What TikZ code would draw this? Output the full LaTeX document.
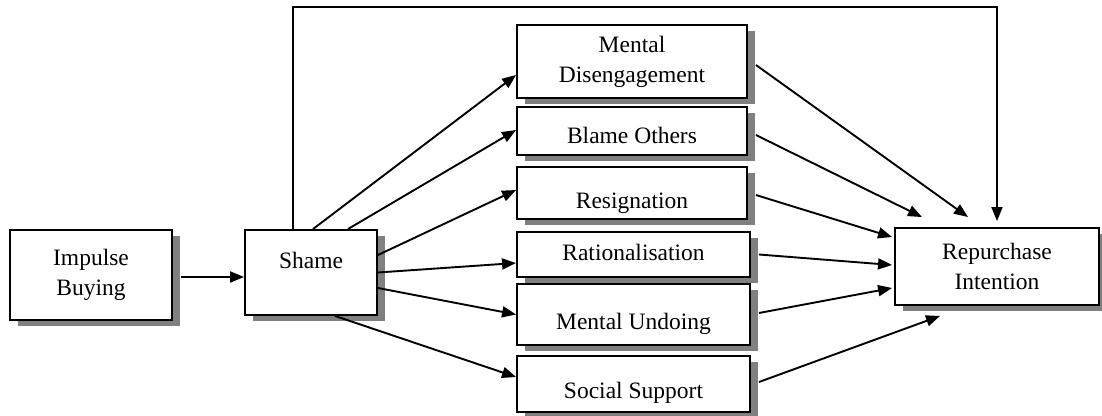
\documentclass[tikz,border=0pt]{standalone}
\usepackage{fontspec}
\setmainfont{Liberation Serif}
\usetikzlibrary{arrows.meta,shadows}
\begin{document}
\begin{tikzpicture}
		[x=1pt, y=-1pt, line width=1.9pt,
		every node/.style={inner sep=0pt, align=center, font=\fontsize{23.5}{30}\selectfont},
		box/.style={draw, fill=white, drop shadow={shadow xshift=8pt, shadow yshift=-6pt, fill=black!50, opacity=1}},
		txt/.style 2 args={text height=#1, text depth=#2},
		>={Triangle[length=14pt, width=11pt]}]
		\useasboundingbox (0,0) rectangle (1102,415);
		\node[box, minimum width=162pt, minimum height=90pt] (impulse) at (91,275) {Impulse\\Buying};
		\node[box, minimum width=132pt, minimum height=85pt, txt={12pt}{20pt}] (shame) at (311,272.5) {Shame};
		
		\node[box, minimum width=230pt, minimum height=73pt] (md) at (632,61.5) {Mental\\Disengagement};
		\node[box, minimum width=230pt, minimum height=48pt, txt={28pt}{4pt}] (bo) at (632,131) {Blame Others};
		\node[box, minimum width=230pt, minimum height=52pt, txt={34pt}{4pt}] (res) at (632,193) {Resignation};
		\node[box, minimum width=233pt, minimum height=45pt, txt={15pt}{4pt}] (rat) at (633.5,254.5) {Rationalisation};
		\node[box, minimum width=233pt, minimum height=61pt, txt={33pt}{4pt}] (mu) at (633.5,314.5) {Mental Undoing};
		\node[box, minimum width=233pt, minimum height=56pt, txt={32pt}{4pt}] (ss) at (633.5,384) {Social Support};
		
		\node[box, minimum width=204pt, minimum height=77pt] (rep) at (997,266.5) {Repurchase\\Intention};
		\coordinate (top) at (640,7);
		
		\path[->] ([xshift=8pt,yshift=-2pt]impulse.east) edge ([yshift=-4.5pt]shame.west);
		
		\path[->] ([xshift=2pt]shame.north) edge ([yshift=-13.5pt]md.west);
		\path[->] ([xshift=37pt]shame.north) edge ([yshift=1pt]bo.west);
		\path[->] ([yshift=17.5pt]shame.east) edge ([yshift=3pt]res.west);
		\path[->] (shame.east) edge ([yshift=-8.5pt]rat.west);
		\path[->] ([yshift=-15.5pt]shame.east) edge (mu.west);
		\path[->] ([xshift=24pt]shame.south) edge ([yshift=7pt]ss.west);
		
		\path[->] ([xshift=8pt,yshift=-3.5pt]md.east) edge ([xshift=-29pt,yshift=10pt]rep.north);
		\path[->] ([xshift=8pt,yshift=-4pt]bo.east) edge ([xshift=-75pt,yshift=10pt]rep.north);
		\path[->] ([xshift=8pt,yshift=-2pt]res.east) edge ([xshift=-2pt,yshift=-10pt]rep.north west);
		\path[->] ([xshift=8pt]rat.east) edge ([xshift=-2pt,yshift=1.5pt]rep.west);
		\path[->] ([xshift=8pt,yshift=1.5pt]mu.east) edge ([xshift=-2pt,yshift=-21.5pt]rep.west);
		\path[->] ([xshift=8pt,yshift=2pt]ss.east) edge ([xshift=-57pt,yshift=-10pt]rep.south);
		
		\draw[->] ([xshift=-18pt]shame.north) |- (top) -| ([yshift=6pt]rep.north);
		\end{tikzpicture}
\end{document}
